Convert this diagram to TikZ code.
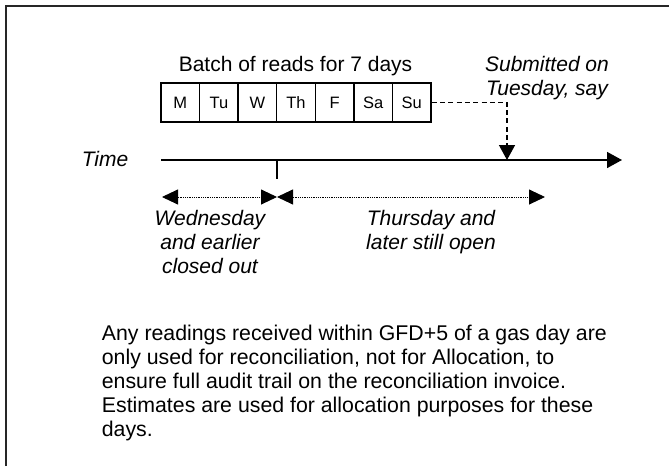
\documentclass[tikz,border=0pt]{standalone}
\usepackage{fontspec}
\setmainfont{Liberation Sans}
\usetikzlibrary{arrows.meta}
\begin{document}
\begin{tikzpicture}[x=1pt,y=-1pt,
  framestyle/.style={line width=2pt, draw=black!85},
  daycell/.style={draw, line width=1.4pt, minimum width=38.57pt, minimum height=39pt,
    inner sep=0pt, font=\fontsize{16.5}{19}\selectfont},
  toptext/.style={inner sep=0pt, font=\fontsize{21}{24}\selectfont},
  itlabel/.style={inner sep=0pt, align=center, font=\fontsize{21}{24}\selectfont\itshape},
  bodytext/.style={inner sep=0pt, align=left, font=\fontsize{21.3}{24}\selectfont},
  timeline/.style={line width=1.6pt, -{Triangle[length=15pt,width=16pt]}},
  tickline/.style={line width=1.4pt},
  submitline/.style={line width=1.4pt, dash pattern=on 5pt off 3.3pt, -{Triangle[length=15pt,width=16pt]}},
  spanarrow/.style={line width=0.9pt, dash pattern=on 0.9pt off 0.9pt,
    {Triangle[length=16pt,width=15pt]}-{Triangle[length=16pt,width=15pt]}}
]
\useasboundingbox (0,0) rectangle (669,466);
\draw[framestyle] (6.3,466) -- (6.3,5.7) -- (669,5.7);

% batch title
\node[toptext, anchor=base] (batch) at (295.5,71.7) {Batch of reads for 7 days};

% day cells
\node[daycell] (d1) at (180.29,102.5) {M};
\node[daycell] (d2) at (218.86,102.5) {Tu};
\node[daycell] (d3) at (257.43,102.5) {W};
\node[daycell] (d4) at (296.00,102.5) {Th};
\node[daycell] (d5) at (334.57,102.5) {F};
\node[daycell] (d6) at (373.14,102.5) {Sa};
\node[daycell] (d7) at (411.71,102.5) {Su};

% submitted label
\node[itlabel, anchor=base] (sub1) at (547,71.7) {Submitted on};
\node[itlabel, anchor=base] (sub2) at (547,95.7) {Tuesday, say};

% time axis
\node[itlabel, anchor=base] (time) at (105,166.7) {Time};
\coordinate (tstart) at (161,160);
\coordinate (tend) at (622,160);
\coordinate (tsub) at (507,160);
\coordinate (tick) at (277,160);
\coordinate (tickend) at (277,179);
\draw[timeline] (tstart) -- (tend);
\draw[tickline] (tick) -- (tickend);
\draw[submitline] (d7.east) -| (tsub);

% span arrows
\coordinate (sl) at (162,197);
\coordinate (sm) at (277,197);
\coordinate (sr) at (545,197);
\draw[spanarrow] (sl) -- (sm);
\draw[spanarrow] (sm) -- (sr);

\node[itlabel, anchor=base] (wed1) at (210,225.5) {Wednesday};
\node[itlabel, anchor=base] (wed2) at (210,249.5) {and earlier};
\node[itlabel, anchor=base] (wed3) at (210,273.5) {closed out};

\node[itlabel, anchor=base] (thu1) at (431,225.5) {Thursday and};
\node[itlabel, anchor=base] (thu2) at (431,249.5) {later still open};

% body text
\node[bodytext, anchor=base west] (body1) at (101.7,340.7) {Any readings received within GFD+5 of a gas day are};
\node[bodytext, anchor=base west] (body2) at (101.7,364.7) {only used for reconciliation, not for Allocation, to};
\node[bodytext, anchor=base west] (body3) at (101.7,388.7) {ensure full audit trail on the reconciliation invoice.};
\node[bodytext, anchor=base west] (body4) at (101.7,412.7) {Estimates are used for allocation purposes for these};
\node[bodytext, anchor=base west] (body5) at (101.7,436.7) {days.};
\end{tikzpicture}
\end{document}
